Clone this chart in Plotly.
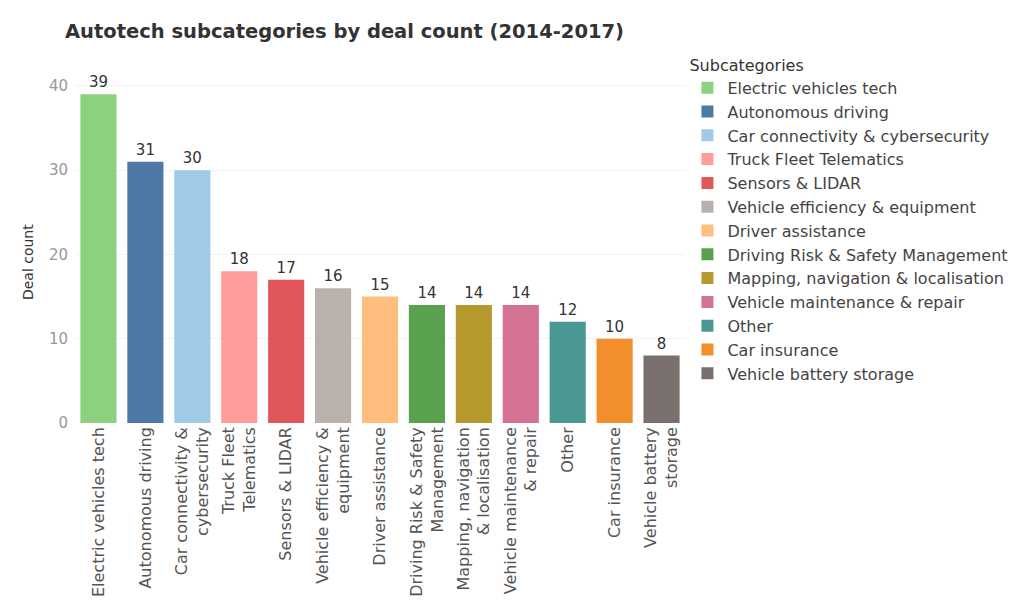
import plotly.graph_objects as go

# Deal counts per autotech subcategory, 2014-2017
categories = [
    "Electric vehicles tech",
    "Autonomous driving",
    "Car connectivity & cybersecurity",
    "Truck Fleet Telematics",
    "Sensors & LIDAR",
    "Vehicle efficiency & equipment",
    "Driver assistance",
    "Driving Risk & Safety Management",
    "Mapping, navigation & localisation",
    "Vehicle maintenance & repair",
    "Other",
    "Car insurance",
    "Vehicle battery storage",
]
tick_labels = [
    "Electric vehicles tech",
    "Autonomous driving",
    "Car connectivity &<br>cybersecurity",
    "Truck Fleet<br>Telematics",
    "Sensors & LIDAR",
    "Vehicle efficiency &<br>equipment",
    "Driver assistance",
    "Driving Risk & Safety<br>Management",
    "Mapping, navigation<br>& localisation",
    "Vehicle maintenance<br>& repair",
    "Other",
    "Car insurance",
    "Vehicle battery<br>storage",
]
deal_counts = [39, 31, 30, 18, 17, 16, 15, 14, 14, 14, 12, 10, 8]
colors = [
    "#8CD17D", "#4E79A7", "#A0CBE8", "#FF9D9A", "#E15759", "#BAB0AC",
    "#FFBE7D", "#59A14F", "#B6992D", "#D37295", "#499894", "#F28E2B",
    "#79706E",
]

FONT = "DejaVu Sans, Liberation Sans, Arial, sans-serif"

fig = go.Figure()
for name, label, val, col in zip(categories, tick_labels, deal_counts, colors):
    fig.add_trace(go.Bar(
        x=[label],
        y=[val],
        name=name,
        marker=dict(color=col, line=dict(width=0)),
        text=[str(val)],
        textposition="outside",
        textfont=dict(family=FONT, size=15, color="#333333"),
        cliponaxis=False,
        width=0.77,
        hoverinfo="x+y",
    ))

fig.update_layout(
    width=1021,
    height=606,
    barmode="overlay",
    paper_bgcolor="white",
    plot_bgcolor="white",
    margin=dict(l=75, r=336, t=69, b=183, autoexpand=False),
    title=dict(
        text="<b>Autotech subcategories by deal count (2014-2017)</b>",
        x=65 / 1021, xanchor="left",
        y=1 - 31 / 606, yanchor="middle",
        font=dict(family=FONT, size=19.5, color="#333333"),
    ),
    font=dict(family=FONT, color="#555555"),
    legend=dict(
        title=dict(text="Subcategories", font=dict(family=FONT, size=16, color="#333333")),
        font=dict(family=FONT, size=16, color="#444444"),
        x=1.004, xanchor="left",
        y=(423 - 50) / 354, yanchor="top",
        bgcolor="rgba(0,0,0,0)",
        traceorder="normal",
        maxheight=450,
    ),
    annotations=[dict(
        text="Deal count",
        xref="paper", yref="paper",
        x=-47 / 611, y=(423 - 262) / 354,
        xanchor="center", yanchor="middle",
        textangle=-90,
        showarrow=False,
        font=dict(family=FONT, size=14, color="#333333"),
    )],
    showlegend=True,
)

fig.update_xaxes(
    type="category",
    categoryorder="array",
    categoryarray=tick_labels,
    tickangle=-90,
    tickfont=dict(family=FONT, size=16, color="#555555"),
    showline=False,
    showgrid=False,
    ticks="",
)
fig.update_yaxes(
    range=[0, 42],
    tickvals=[0, 10, 20, 30, 40],
    tickfont=dict(family=FONT, size=15, color="#999999"),
    ticklabelstandoff=6,
    showgrid=True,
    gridcolor="#f2f2f2",
    zeroline=False,
    showline=False,
    ticks="",
)

fig.write_html("out.html")
